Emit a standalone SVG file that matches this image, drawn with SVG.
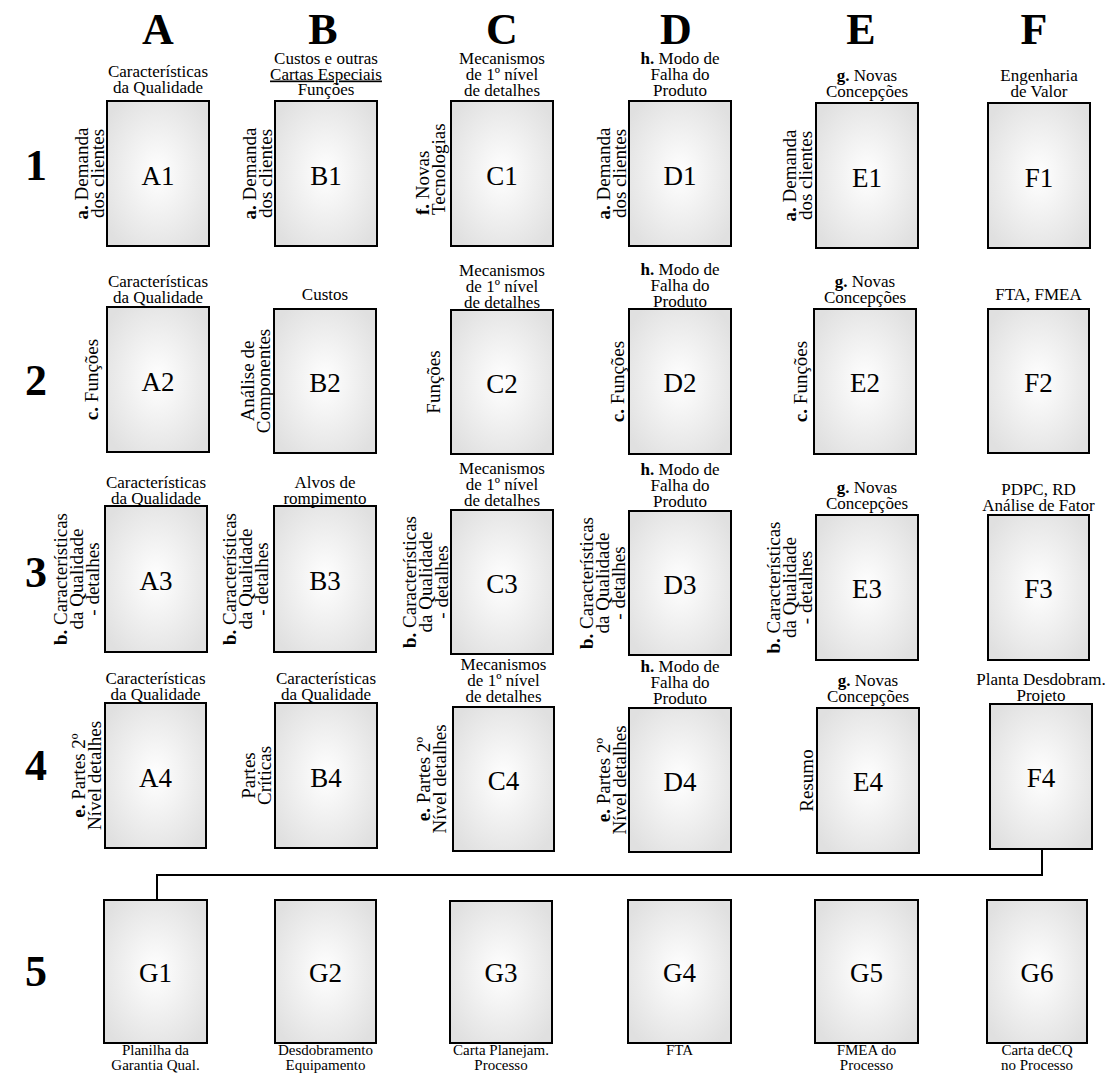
<svg xmlns="http://www.w3.org/2000/svg" width="1107" height="1078" viewBox="0 0 1107 1078" font-family="'Liberation Serif','Times New Roman',serif">
<defs>
<radialGradient id="g" cx="50%" cy="50%" r="62%">
<stop offset="0" stop-color="#ffffff"/>
<stop offset="1" stop-color="#e0e0e0"/>
</radialGradient>
</defs>
<style>
text{font-family:"Liberation Serif","Times New Roman",serif;fill:#000}
.box{fill:url(#g);stroke:#000;stroke-width:2}
.lbl{font-size:27px;text-anchor:middle}
.top{font-size:17px;text-anchor:middle}
.side{font-size:19px;text-anchor:middle}
.hdr{font-size:44px;font-weight:bold;text-anchor:middle}
.cap{font-size:15px;text-anchor:middle}
.b{font-weight:bold}
.conn{fill:none;stroke:#000;stroke-width:2}
</style>
<rect width="1107" height="1078" fill="#fff"/>

<g id="headers">
<text class="hdr" x="158" y="44">A</text>
<text class="hdr" x="323" y="44">B</text>
<text class="hdr" x="502" y="44">C</text>
<text class="hdr" x="676" y="44">D</text>
<text class="hdr" x="861" y="44">E</text>
<text class="hdr" x="1034" y="44">F</text>
<text class="hdr" x="36" y="180">1</text>
<text class="hdr" x="36" y="395">2</text>
<text class="hdr" x="36" y="587">3</text>
<text class="hdr" x="36" y="780">4</text>
<text class="hdr" x="36" y="986">5</text>
</g>

<g id="connectors">
<polyline class="conn" points="1042,849 1042,875 157,875 157,900"/>
</g>

<!-- Row 1 -->
<g id="A1">
<rect class="box" x="107" y="101" width="102" height="145"/>
<text class="lbl" x="158" y="185">A1</text>
<text class="top" x="158" y="77">Características<tspan x="158" dy="16">da Qualidade</tspan></text>
<text class="side" transform="translate(88,173.5) rotate(-90)"><tspan x="0" y="0"><tspan class="b">a.</tspan> Demanda</tspan><tspan x="0" dy="16">dos clientes</tspan></text>
</g>
<g id="B1">
<rect class="box" x="275" y="101" width="102" height="145"/>
<text class="lbl" x="326" y="185">B1</text>
<text class="top" x="326" y="64">Custos e outras<tspan x="326" dy="15.5" text-decoration="underline">Cartas Especiais</tspan><tspan x="326" dy="15.5">Funções</tspan></text>
<text class="side" transform="translate(256,173.5) rotate(-90)"><tspan x="0" y="0"><tspan class="b">a.</tspan> Demanda</tspan><tspan x="0" dy="16">dos clientes</tspan></text>
</g>
<g id="C1">
<rect class="box" x="451" y="101" width="102" height="145"/>
<text class="lbl" x="502" y="185">C1</text>
<text class="top" x="502" y="64">Mecanismos<tspan x="502" dy="16">de 1º nível</tspan><tspan x="502" dy="16">de detalhes</tspan></text>
<text class="side" style="text-anchor:start" transform="translate(429,215) rotate(-90)"><tspan x="0" y="0"><tspan class="b">f.</tspan> Novas</tspan><tspan x="0" dy="16">Tecnologias</tspan></text>
</g>
<g id="D1">
<rect class="box" x="629" y="101" width="102" height="145"/>
<text class="lbl" x="680" y="185">D1</text>
<text class="top" x="680" y="64"><tspan class="b">h.</tspan> Modo de<tspan x="680" dy="16">Falha do</tspan><tspan x="680" dy="16">Produto</tspan></text>
<text class="side" transform="translate(610,173.5) rotate(-90)"><tspan x="0" y="0"><tspan class="b">a.</tspan> Demanda</tspan><tspan x="0" dy="16">dos clientes</tspan></text>
</g>
<g id="E1">
<rect class="box" x="816" y="103" width="102" height="145"/>
<text class="lbl" x="867" y="187">E1</text>
<text class="top" x="867" y="81"><tspan class="b">g.</tspan> Novas<tspan x="867" dy="16">Concepções</tspan></text>
<text class="side" transform="translate(796,175.5) rotate(-90)"><tspan x="0" y="0"><tspan class="b">a.</tspan> Demanda</tspan><tspan x="0" dy="16">dos clientes</tspan></text>
</g>
<g id="F1">
<rect class="box" x="988" y="103" width="102" height="145"/>
<text class="lbl" x="1039" y="187">F1</text>
<text class="top" x="1039" y="81">Engenharia<tspan x="1039" dy="16">de Valor</tspan></text>
</g>

<!-- Row 2 -->
<g id="A2">
<rect class="box" x="107" y="307" width="102" height="145"/>
<text class="lbl" x="158" y="391">A2</text>
<text class="top" x="158" y="287">Características<tspan x="158" dy="16">da Qualidade</tspan></text>
<text class="side" transform="translate(98,379.5) rotate(-90)"><tspan class="b">c.</tspan> Funções</text>
</g>
<g id="B2">
<rect class="box" x="274" y="309" width="102" height="144"/>
<text class="lbl" x="325" y="392">B2</text>
<text class="top" x="325" y="300">Custos</text>
<text class="side" transform="translate(254,381) rotate(-90)"><tspan x="0" y="0">Análise de</tspan><tspan x="0" dy="16">Componentes</tspan></text>
</g>
<g id="C2">
<rect class="box" x="451" y="310" width="102" height="144"/>
<text class="lbl" x="502" y="393">C2</text>
<text class="top" x="502" y="276">Mecanismos<tspan x="502" dy="16">de 1º nível</tspan><tspan x="502" dy="16">de detalhes</tspan></text>
<text class="side" transform="translate(440,382) rotate(-90)">Funções</text>
</g>
<g id="D2">
<rect class="box" x="629" y="309" width="102" height="145"/>
<text class="lbl" x="680" y="392">D2</text>
<text class="top" x="680" y="275"><tspan class="b">h.</tspan> Modo de<tspan x="680" dy="16">Falha do</tspan><tspan x="680" dy="16">Produto</tspan></text>
<text class="side" transform="translate(624,381.5) rotate(-90)"><tspan class="b">c.</tspan> Funções</text>
</g>
<g id="E2">
<rect class="box" x="814" y="309" width="102" height="145"/>
<text class="lbl" x="865" y="392">E2</text>
<text class="top" x="865" y="287"><tspan class="b">g.</tspan> Novas<tspan x="865" dy="16">Concepções</tspan></text>
<text class="side" transform="translate(807,381.5) rotate(-90)"><tspan class="b">c.</tspan> Funções</text>
</g>
<g id="F2">
<rect class="box" x="988" y="309" width="101" height="144"/>
<text class="lbl" x="1038.5" y="392">F2</text>
<text class="top" x="1038.5" y="300">FTA, FMEA</text>
</g>

<!-- Row 3 -->
<g id="A3">
<rect class="box" x="105" y="506" width="102" height="146"/>
<text class="lbl" x="156" y="590">A3</text>
<text class="top" x="156" y="488">Características<tspan x="156" dy="15.5">da Qualidade</tspan></text>
<text class="side" transform="translate(67,579) rotate(-90)"><tspan x="0" y="0"><tspan class="b">b.</tspan> Características</tspan><tspan x="0" dy="16">da Qualidade</tspan><tspan x="0" dy="16">- detalhes</tspan></text>
</g>
<g id="B3">
<rect class="box" x="274" y="506" width="102" height="146"/>
<text class="lbl" x="325" y="590">B3</text>
<text class="top" x="325" y="488">Alvos de<tspan x="325" dy="15.5">rompimento</tspan></text>
<text class="side" transform="translate(236,579) rotate(-90)"><tspan x="0" y="0"><tspan class="b">b.</tspan> Características</tspan><tspan x="0" dy="16">da Qualidade</tspan><tspan x="0" dy="16">- detalhes</tspan></text>
</g>
<g id="C3">
<rect class="box" x="451" y="510" width="102" height="144"/>
<text class="lbl" x="502" y="593">C3</text>
<text class="top" x="502" y="474">Mecanismos<tspan x="502" dy="16">de 1º nível</tspan><tspan x="502" dy="16">de detalhes</tspan></text>
<text class="side" transform="translate(416,582) rotate(-90)"><tspan x="0" y="0"><tspan class="b">b.</tspan> Características</tspan><tspan x="0" dy="16">da Qualidade</tspan><tspan x="0" dy="16">- detalhes</tspan></text>
</g>
<g id="D3">
<rect class="box" x="629" y="511" width="102" height="144"/>
<text class="lbl" x="680" y="594">D3</text>
<text class="top" x="680" y="475"><tspan class="b">h.</tspan> Modo de<tspan x="680" dy="16">Falha do</tspan><tspan x="680" dy="16">Produto</tspan></text>
<text class="side" transform="translate(593,583) rotate(-90)"><tspan x="0" y="0"><tspan class="b">b.</tspan> Características</tspan><tspan x="0" dy="16">da Qualidade</tspan><tspan x="0" dy="16">- detalhes</tspan></text>
</g>
<g id="E3">
<rect class="box" x="816" y="515" width="102" height="145"/>
<text class="lbl" x="867" y="598">E3</text>
<text class="top" x="867" y="493"><tspan class="b">g.</tspan> Novas<tspan x="867" dy="15.5">Concepções</tspan></text>
<text class="side" transform="translate(780,587.5) rotate(-90)"><tspan x="0" y="0"><tspan class="b">b.</tspan> Características</tspan><tspan x="0" dy="16">da Qualidade</tspan><tspan x="0" dy="16">- detalhes</tspan></text>
</g>
<g id="F3">
<rect class="box" x="988" y="515" width="101" height="145"/>
<text class="lbl" x="1038.5" y="598">F3</text>
<text class="top" x="1038.5" y="495">PDPC, RD<tspan x="1038.5" dy="15.5">Análise de Fator</tspan></text>
</g>

<!-- Row 4 -->
<g id="A4">
<rect class="box" x="105" y="703" width="101" height="145"/>
<text class="lbl" x="155.5" y="787">A4</text>
<text class="top" x="155.5" y="684">Características<tspan x="155.5" dy="16">da Qualidade</tspan></text>
<text class="side" transform="translate(85,775.5) rotate(-90)"><tspan x="0" y="0"><tspan class="b">e.</tspan> Partes 2º</tspan><tspan x="0" dy="16">Nível detalhes</tspan></text>
</g>
<g id="B4">
<rect class="box" x="275" y="703" width="102" height="145"/>
<text class="lbl" x="326" y="787">B4</text>
<text class="top" x="326" y="684">Características<tspan x="326" dy="16">da Qualidade</tspan></text>
<text class="side" transform="translate(255,775.5) rotate(-90)"><tspan x="0" y="0">Partes</tspan><tspan x="0" dy="16">Críticas</tspan></text>
</g>
<g id="C4">
<rect class="box" x="453" y="707" width="101" height="144"/>
<text class="lbl" x="503.5" y="790">C4</text>
<text class="top" x="503.5" y="670">Mecanismos<tspan x="503.5" dy="16">de 1º nível</tspan><tspan x="503.5" dy="16">de detalhes</tspan></text>
<text class="side" transform="translate(430,779) rotate(-90)"><tspan x="0" y="0"><tspan class="b">e.</tspan> Partes 2º</tspan><tspan x="0" dy="16">Nível detalhes</tspan></text>
</g>
<g id="D4">
<rect class="box" x="629" y="708" width="102" height="144"/>
<text class="lbl" x="680" y="791">D4</text>
<text class="top" x="680" y="672"><tspan class="b">h.</tspan> Modo de<tspan x="680" dy="16">Falha do</tspan><tspan x="680" dy="16">Produto</tspan></text>
<text class="side" transform="translate(610,780) rotate(-90)"><tspan x="0" y="0"><tspan class="b">e.</tspan> Partes 2º</tspan><tspan x="0" dy="16">Nível detalhes</tspan></text>
</g>
<g id="E4">
<rect class="box" x="817" y="708" width="102" height="145"/>
<text class="lbl" x="868" y="791">E4</text>
<text class="top" x="868" y="686"><tspan class="b">g.</tspan> Novas<tspan x="868" dy="16">Concepções</tspan></text>
<text class="side" transform="translate(813,780.5) rotate(-90)">Resumo</text>
</g>
<g id="F4">
<rect class="box" x="990" y="704" width="102" height="145"/>
<text class="lbl" x="1041" y="787">F4</text>
<text class="top" x="1041" y="685">Planta Desdobram.<tspan x="1041" dy="16">Projeto</tspan></text>
</g>

<!-- Row 5 -->
<g id="G1">
<rect class="box" x="104" y="900" width="103" height="143"/>
<text class="lbl" x="155.5" y="982">G1</text>
<text class="cap" x="155.5" y="1055">Planilha da<tspan x="155.5" dy="15">Garantia Qual.</tspan></text>
</g>
<g id="G2">
<rect class="box" x="275" y="900" width="101" height="143"/>
<text class="lbl" x="325.5" y="982">G2</text>
<text class="cap" x="325.5" y="1055">Desdobramento<tspan x="325.5" dy="15">Equipamento</tspan></text>
</g>
<g id="G3">
<rect class="box" x="450" y="901" width="102" height="142"/>
<text class="lbl" x="501" y="982">G3</text>
<text class="cap" x="501" y="1055">Carta Planejam.<tspan x="501" dy="15">Processo</tspan></text>
</g>
<g id="G4">
<rect class="box" x="628" y="900" width="103" height="143"/>
<text class="lbl" x="679.5" y="982">G4</text>
<text class="cap" x="679.5" y="1055">FTA</text>
</g>
<g id="G5">
<rect class="box" x="815" y="900" width="103" height="143"/>
<text class="lbl" x="866.5" y="982">G5</text>
<text class="cap" x="866.5" y="1055">FMEA do<tspan x="866.5" dy="15">Processo</tspan></text>
</g>
<g id="G6">
<rect class="box" x="987" y="900" width="100" height="143"/>
<text class="lbl" x="1037" y="982">G6</text>
<text class="cap" x="1037" y="1055">Carta deCQ<tspan x="1037" dy="15">no Processo</tspan></text>
</g>
</svg>
